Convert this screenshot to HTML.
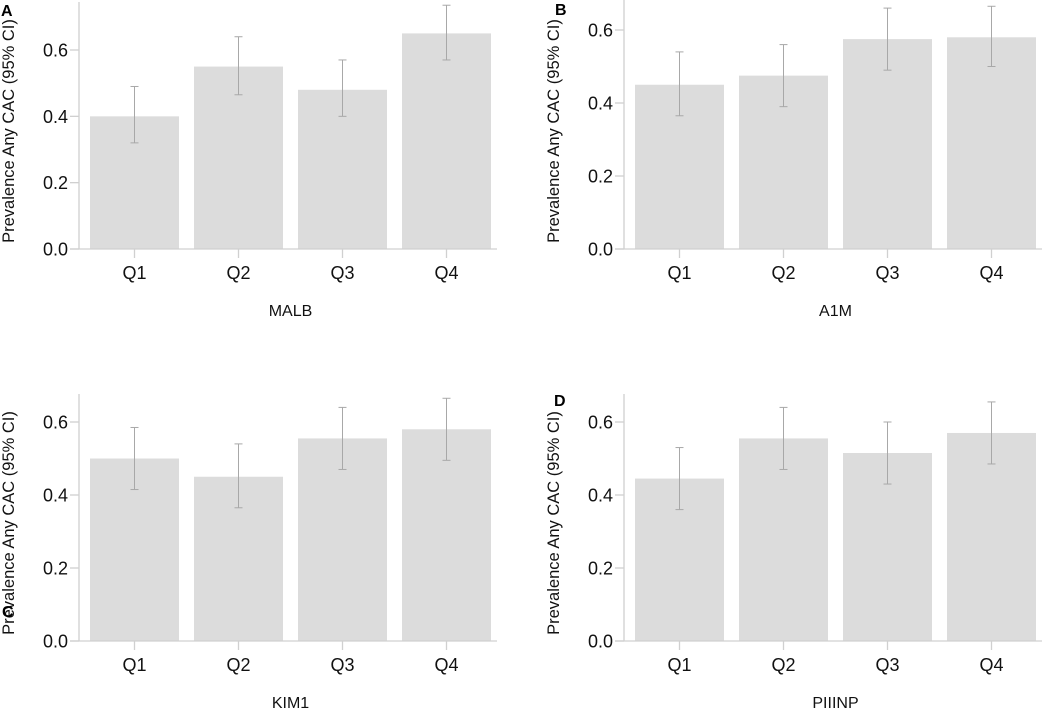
<!DOCTYPE html>
<html><head><meta charset="utf-8"><style>
body{margin:0;background:#fff;width:1050px;height:708px;overflow:hidden}
svg{display:block;font-family:"Liberation Sans",sans-serif}
</style></head><body>
<svg id="chart" width="1050" height="708"></svg>
<script>
const categories=["Q1","Q2","Q3","Q4"];
const malbValues=[0.40,0.55,0.48,0.65];
const malbLow=[0.32,0.465,0.40,0.57];
const malbHigh=[0.49,0.64,0.57,0.735];
const a1mValues=[0.45,0.475,0.575,0.58];
const a1mLow=[0.365,0.39,0.49,0.50];
const a1mHigh=[0.54,0.56,0.66,0.665];
const kim1Values=[0.50,0.45,0.555,0.58];
const kim1Low=[0.415,0.365,0.47,0.495];
const kim1High=[0.585,0.54,0.64,0.665];
const piiinpValues=[0.445,0.555,0.515,0.57];
const piiinpLow=[0.36,0.47,0.43,0.485];
const piiinpHigh=[0.53,0.64,0.60,0.655];
const yTicks=[0,0.2,0.4,0.6];
const yTickLabels=["0.0","0.2","0.4","0.6"];

const svg=document.getElementById('chart');
const NS="http://www.w3.org/2000/svg";
function mk(tag,attrs,parent){const e=document.createElementNS(NS,tag);for(const k in attrs)e.setAttribute(k,attrs[k]);(parent||svg).appendChild(e);return e;}

const panels=[
 {letter:"A",lx:1,ly:16,title:"MALB",axisX:79,base:249,top:50,topVal:0.6,axisTop:2,vals:malbValues,lo:malbLow,hi:malbHigh},
 {letter:"B",lx:555,ly:15,title:"A1M",axisX:624,base:249,top:30,topVal:0.6,axisTop:0,vals:a1mValues,lo:a1mLow,hi:a1mHigh},
 {letter:"C",lx:2,ly:617,title:"KIM1",axisX:79,base:641,top:422,topVal:0.6,axisTop:394,vals:kim1Values,lo:kim1Low,hi:kim1High},
 {letter:"D",lx:554,ly:406,title:"PIIINP",axisX:624,base:641,top:422,topVal:0.6,axisTop:394,vals:piiinpValues,lo:piiinpLow,hi:piiinpHigh}
];
panels.forEach((p,pi)=>{
 const g=mk('g',{});
 
 
 const y=v=>p.base-(v/p.topVal)*(p.base-p.top);
 const bx0=p.axisX+11, step=104, bw=89;
 const xc=i=>bx0+i*step+bw/2;
 p.vals.forEach((v,i)=>{
  const r=mk('rect',{x:bx0+i*step,y:y(v),width:bw,height:p.base-y(v),fill:'#dcdcdc'},g);
  
  
 });
 p.vals.forEach((v,i)=>{
  const e=mk('g',{stroke:'#a8a8a8','stroke-width':1},g);
  
  
  const c=xc(i);
  mk('line',{x1:c,x2:c,y1:y(p.lo[i]),y2:y(p.hi[i])},e);
  mk('line',{x1:c-4,x2:c+4,y1:y(p.lo[i]),y2:y(p.lo[i])},e);
  mk('line',{x1:c-4,x2:c+4,y1:y(p.hi[i]),y2:y(p.hi[i])},e);
 });
 const ax=mk('g',{stroke:'#d0d0d0','stroke-width':1.3},g);
 
 
 mk('line',{x1:p.axisX,x2:p.axisX,y1:p.axisTop,y2:p.base},ax);
 mk('line',{x1:p.axisX-9,x2:bx0+3*step+bw+6,y1:p.base,y2:p.base},ax);
 yTicks.forEach(t=>mk('line',{x1:p.axisX-9,x2:p.axisX,y1:y(t),y2:y(t)},ax));
 categories.forEach((c,i)=>mk('line',{x1:xc(i),x2:xc(i),y1:p.base,y2:p.base+9},ax));
 yTicks.forEach((t,i)=>{
  const tx=mk('text',{x:p.axisX-11,y:y(t)+6.5,'text-anchor':'end','font-size':18,fill:'#111'},g);
  tx.textContent=yTickLabels[i];
  
  
 });
 categories.forEach((c,i)=>{
  const tx=mk('text',{x:xc(i),y:p.base+30,'text-anchor':'middle','font-size':18,fill:'#111'},g);
  tx.textContent=c;
  
  
 });
 const xt=mk('text',{x:bx0+(3*step+bw)/2,y:p.base+67,'text-anchor':'middle','font-size':16,fill:'#111'},g);
 xt.textContent=p.title;
 
 
 const ymid=p.base-118;
 const yt=mk('text',{x:0,y:0,transform:`translate(${p.axisX-65},${ymid}) rotate(-90)`,'text-anchor':'middle','font-size':16.5,fill:'#111'},g);
 yt.textContent="Prevalence Any CAC (95% CI)";
 
 
 const lt=mk('text',{x:p.lx,y:p.ly,'font-size':16,'font-weight':'bold',fill:'#000'},g);
 lt.textContent=p.letter;
 
 
});
</script>
</body></html>
